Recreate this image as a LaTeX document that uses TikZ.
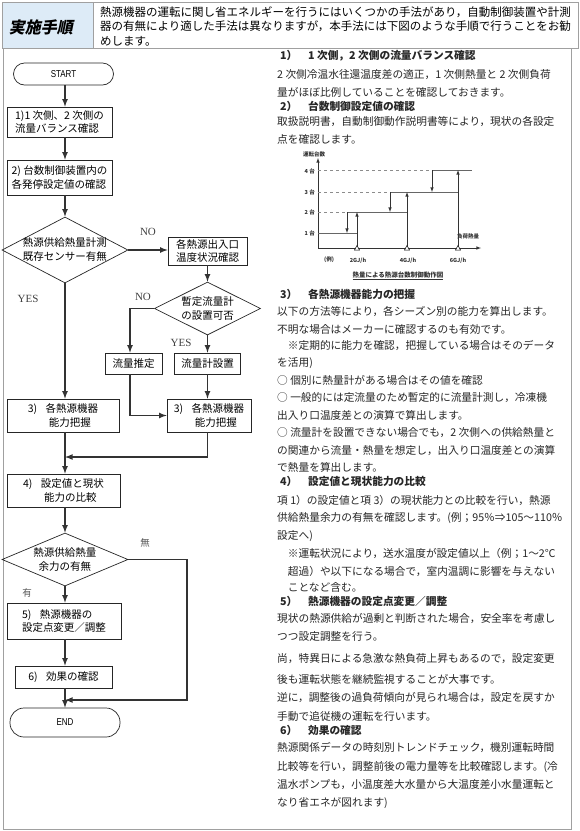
\documentclass[tikz,border=0pt]{standalone}
\usepackage{fontspec}
\setmainfont{Noto Sans CJK JP}
\newfontfamily\titlefont{Noto Sans CJK JP}[FakeSlant=0.2]
\newfontfamily\narrowsans{Liberation Sans}[FakeStretch=0.8]
\newfontfamily\romanfont{Liberation Serif}
\usetikzlibrary{shapes.geometric,arrows}
\definecolor{headblue}{HTML}{DDEBF7}
\definecolor{framegray}{HTML}{A0A0A0}
\definecolor{linegray}{HTML}{333333}

\begin{document}
\begin{tikzpicture}[x=1pt,y=-1pt]
\useasboundingbox (0,0) rectangle (580,831);
\fill[white] (0,0) rectangle (580,831);

\draw[framegray,fill=headblue] (2,2) rectangle (93,48);
\draw[framegray] (93,2) rectangle (578,48);
\draw[framegray] (3,48) rectangle (571,829);

\node[font=\titlefont\bfseries\fontsize{16}{16}\selectfont] (title) at (41,27) {実施手順};
\tikzstyle{introline}=[anchor=west,inner sep=0pt,font=\fontsize{11.5}{12}\selectfont]
\node[introline] (i1) at (100,12) {熱源機器の運転に関し省エネルギーを行うにはいくつかの手法があり，自動制御装置や計測};
\node[introline] (i2) at (100,26.5) {器の有無により適した手法は異なりますが，本手法には下図のような手順で行うことをお勧};
\node[introline] (i3) at (100,41) {めします。};

\tikzstyle{stepbox}=[draw=black!85,line width=0.7pt,inner sep=0pt,align=left,font=\fontsize{10.5}{13.5}\selectfont]
\tikzstyle{termbox}=[draw=black!85,line width=0.7pt,inner sep=0pt,font=\narrowsans\fontsize{10}{10}\selectfont]
\tikzstyle{decide}=[draw=black!85,line width=0.7pt,diamond,inner sep=0pt]
\tikzstyle{decidetext}=[inner sep=0pt,align=center,font=\fontsize{10.5}{14}\selectfont]
\tikzstyle{flow}=[->,>=latex,line width=1.6pt,color=linegray]
\tikzstyle{answer}=[inner sep=0pt,font=\romanfont\fontsize{11}{11}\selectfont,color=black!75]
\tikzstyle{kanjianswer}=[inner sep=0pt,font=\fontsize{9.5}{10}\selectfont,color=black!65]

\coordinate (col) at (65,0);
\coordinate (lcol) at (130,0);
\node[termbox,rounded corners=11pt,minimum width=100pt,minimum height=22pt] (start) at (63.5,74) {START};
\node[stepbox,minimum width=105pt,minimum height=30pt] (s1) at (59.5,122) {1)1 次側、2 次側の\\流量バランス確認};
\node[stepbox,minimum width=105pt,minimum height=35pt] (s2) at (59.5,177.5) {2) 台数制御装置内の\\各発停設定値の確認};
\node[decide,minimum width=126pt,minimum height=66pt] (d1) at (65,250) {};
\node[decidetext] (d1t) at (d1) {熱源供給熱量計測\\既存センサー有無};
\node[stepbox,align=center,minimum width=79pt,minimum height=28pt] (chk) at (207.5,251) {各熱源出入口\\温度状況確認};
\node[decide,minimum width=106pt,minimum height=53pt] (d2) at (207.5,308.5) {};
\node[decidetext] (d2t) at (d2) {暫定流量計\\の設置可否};
\node[stepbox,minimum width=57pt,minimum height=21pt] (est) at (133.5,363.5) {流量推定};
\node[stepbox,minimum width=66pt,minimum height=21pt] (meter) at (207.5,363.5) {流量計設置};
\node[stepbox,minimum width=112pt,minimum height=33pt] (cap1) at (63,415.5) {3)\hspace{0.8em}各熱源機器\\\hspace{2em}能力把握};
\node[stepbox,minimum width=84pt,minimum height=33pt] (cap2) at (209,415.5) {3)\hspace{0.8em}各熱源機器\\\hspace{2em}能力把握};
\node[stepbox,minimum width=113pt,minimum height=33pt] (comp) at (63.5,490.5) {4)\hspace{0.8em}設定値と現状\\\hspace{2em}能力の比較};
\node[decide,minimum width=126pt,minimum height=53pt] (d3) at (65,559.5) {};
\node[decidetext] (d3t) at (d3) {熱源供給熱量\\余力の有無};
\node[stepbox,minimum width=114pt,minimum height=36pt] (adj) at (64,621) {5)\hspace{0.8em}熱源機器の\\設定点変更／調整};
\node[stepbox,minimum width=97pt,minimum height=22pt] (eff) at (63.5,677) {6)\hspace{0.8em}効果の確認};
\node[termbox,rounded corners=14pt,minimum width=110pt,minimum height=29pt] (end) at (65,722.5) {END};

\node[answer] (no1) at (148,232) {NO};
\node[answer] (yes1) at (28,299) {YES};
\node[answer] (no2) at (143,297) {NO};
\node[answer] (yes2) at (181,343) {YES};
\node[kanjianswer] (nashi) at (145,543) {無};
\node[kanjianswer] (ari) at (27,593) {有};

\coordinate (join) at (65,457);
\coordinate (back) at (187,700);
\draw[flow] (start.south -| col) -- (s1.north -| col);
\draw[flow] (s1.south -| col) -- (s2.north -| col);
\draw[flow] (s2.south -| col) -- (d1.north);
\draw[flow] (d1.east) -- (d1.east -| chk.west);
\draw[flow] (chk.south) -- (d2.north);
\draw[flow] (d2.west) -| (est.north -| lcol);
\draw[flow] (d2.south) -- (meter.north);
\draw[flow] (meter.south) -- (meter.south |- cap2.north);
\draw[flow] (est.south -| lcol) |- (cap2.west);
\draw[flow] (d1.south) -- (cap1.north -| col);
\draw[flow] (cap2.south -| meter.south) |- (join);
\draw[flow] (cap1.south -| col) -- (comp.north -| col);
\draw[flow] (comp.south -| col) -- (d3.north);
\draw[flow] (d3.east) -| (back) -- (back -| col);
\draw[flow] (d3.south) -- (adj.north -| col);
\draw[flow] (adj.south -| col) -- (eff.north -| col);
\draw[flow] (eff.south -| col) -- (end.north);

\tikzstyle{itemhead}=[anchor=west,inner sep=0pt,font=\bfseries\fontsize{10.7}{12}\selectfont,color=black!85]
\tikzstyle{bodyline}=[anchor=west,inner sep=0pt,font=\fontsize{10.7}{12}\selectfont,color=black!85]
\node[itemhead] (h1) at (280,56) {1）　1 次側，2 次側の流量バランス確認};
\node[bodyline] (p1) at (277,75) {2 次側冷温水往還温度差の適正，1 次側熱量と 2 次側負荷};
\node[bodyline] (p2) at (277,92.7) {量がほぼ比例していることを確認しておきます。};
\node[itemhead] (h2) at (280,106) {2）　台数制御設定値の確認};
\node[bodyline] (p3) at (277,122) {取扱説明書，自動制御動作説明書等により，現状の各設定};
\node[bodyline] (p4) at (277,139.5) {点を確認します。};
\node[itemhead] (h3) at (280,294) {3）　各熱源機器能力の把握};
\node[bodyline] (p5) at (277,311.7) {以下の方法等により，各シーズン別の能力を算出します。};
\node[bodyline] (p6) at (277,329.3) {不明な場合はメーカーに確認するのも有効です。};
\node[bodyline] (p7) at (277,346) {　※定期的に能力を確認，把握している場合はそのデータ};
\node[bodyline] (p8) at (277,362.7) {を活用)};
\node[bodyline] (p9) at (277,380) {○ 個別に熱量計がある場合はその値を確認};
\node[bodyline] (p10) at (277,397.7) {○ 一般的には定流量のため暫定的に流量計測し，冷凍機};
\node[bodyline] (p11) at (277,415) {出入り口温度差との演算で算出します。};
\node[bodyline] (p12) at (277,432.7) {○ 流量計を設置できない場合でも，2 次側への供給熱量と};
\node[bodyline] (p13) at (277,450.7) {の関連から流量・熱量を想定し，出入り口温度差との演算};
\node[bodyline] (p14) at (277,467.7) {で熱量を算出します。};
\node[itemhead] (h4) at (280,481) {4）　設定値と現状能力の比較};
\node[bodyline] (p15) at (277,500.5) {項 1）の設定値と項 3）の現状能力との比較を行い，熱源};
\node[bodyline] (p16) at (277,518.3) {供給熱量余力の有無を確認します。(例；95％⇒105～110％};
\node[bodyline] (p17) at (277,536) {設定へ)};
\node[bodyline] (p18) at (277,553.3) {　※運転状況により，送水温度が設定値以上（例；1～2℃};
\node[bodyline] (p19) at (277,571) {　超過）や以下になる場合で，室内温調に影響を与えない};
\node[bodyline] (p20) at (277,587.7) {　ことなど含む。};
\node[itemhead] (h5) at (280,601) {5）　熱源機器の設定点変更／調整};
\node[bodyline] (p21) at (277,618.3) {現状の熱源供給が過剰と判断された場合，安全率を考慮し};
\node[bodyline] (p22) at (277,636) {つつ設定調整を行う。};
\node[bodyline] (p23) at (277,659) {尚，特異日による急激な熱負荷上昇もあるので，設定変更};
\node[bodyline] (p24) at (277,679) {後も運転状態を継続監視することが大事です。};
\node[bodyline] (p25) at (277,697.7) {逆に，調整後の過負荷傾向が見られ場合は，設定を戻すか};
\node[bodyline] (p26) at (277,716) {手動で追従機の運転を行います。};
\node[itemhead] (h6) at (280,730) {6）　効果の確認};
\node[bodyline] (p27) at (277,748) {熱源関係データの時刻別トレンドチェック，機別運転時間};
\node[bodyline] (p28) at (277,766.7) {比較等を行い，調整前後の電力量等を比較確認します。(冷};
\node[bodyline] (p29) at (277,785) {温水ポンプも，小温度差大水量から大温度差小水量運転と};
\node[bodyline] (p30) at (277,803.3) {なり省エネが図れます)};

\tikzstyle{chartlab}=[inner sep=0pt,font=\bfseries\fontsize{5.5}{6}\selectfont,color=black!80]
\tikzstyle{level}=[line width=0.6pt,color=black!60]
\tikzstyle{guide}=[dashed,line width=0.5pt,color=black!45]
\tikzstyle{switch}=[->,>=latex,line width=0.6pt,color=black!80]
\draw[switch] (318,248) -- (318,158);
\draw[switch] (318,248) -- (481,248);
\draw[guide] (318,170) -- (432,170);
\draw[guide] (318,192) -- (390,192);
\draw[guide] (318,212) -- (347,212);
\draw[level] (318,233) -- (357,233);
\draw[level] (347,212) -- (407,212);
\draw[level] (390,192) -- (458,192);
\draw[level] (432,170) -- (472,170);
\draw[switch] (357,248) -- (357,212);
\draw[switch] (407,248) -- (407,192);
\draw[switch] (458,248) -- (458,170);
\draw[switch] (347,212) -- (347,233);
\draw[switch] (390,192) -- (390,212);
\draw[switch] (432,170) -- (432,192);
\draw[line width=0.5pt,fill=white] (357,245.5) -- (354.5,250) -- (359.5,250) -- cycle;
\draw[line width=0.5pt,fill=white] (407,245.5) -- (404.5,250) -- (409.5,250) -- cycle;
\draw[line width=0.5pt,fill=white] (458,245.5) -- (455.5,250) -- (460.5,250) -- cycle;
\node[chartlab,anchor=west] (ylab) at (303,154) {運転台数};
\node[chartlab,anchor=east] (n4) at (315,171) {4 台};
\node[chartlab,anchor=east] (n3) at (315,192) {3 台};
\node[chartlab,anchor=east] (n2) at (315,212) {2 台};
\node[chartlab,anchor=east] (n1) at (315,233) {1 台};
\node[chartlab] (ex) at (329,260) {(例)};
\node[chartlab] (g2) at (358,261) {2GJ/h};
\node[chartlab] (g4) at (408,261) {4GJ/h};
\node[chartlab] (g6) at (458,261) {6GJ/h};
\node[chartlab] (xlab) at (468,236) {負荷熱量};
\node[chartlab,font=\bfseries\fontsize{6.5}{7}\selectfont] (cap) at (398,276) {\underline{熱量による熱源台数制御動作図}};
\end{tikzpicture}
\end{document}
